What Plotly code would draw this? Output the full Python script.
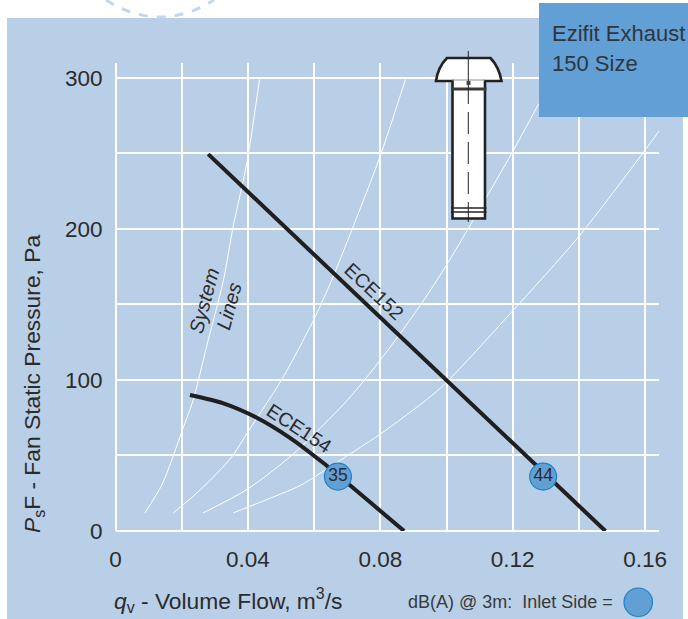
import plotly.graph_objects as go

# ---- data ----
x_ticks = [0, 0.04, 0.08, 0.12, 0.16]
x_labels = ["0", "0.04", "0.08", "0.12", "0.16"]
y_ticks = [0, 100, 200, 300]
y_labels = ["0", "100", "200", "300"]

sys1_q = [0.0089, 0.0140, 0.0170, 0.0195, 0.0235, 0.0275, 0.0326, 0.0355, 0.0397, 0.0435]
sys1_p = [12, 30.5, 47, 62.5, 87, 122, 166, 201, 244, 299]
sys2_q = [0.0175, 0.0260, 0.0351, 0.0401, 0.0452, 0.0507, 0.0597, 0.0653, 0.069, 0.0796, 0.0876]
sys2_p = [12, 28, 49, 66, 83, 102, 139, 166, 186, 246, 299]
sys3_q = [0.0265, 0.0401, 0.0532, 0.0593, 0.0702, 0.0796, 0.0910, 0.0997, 0.1197, 0.1279]
sys3_p = [12, 28, 50, 62.5, 87, 112, 146, 175, 250, 283]
sys4_q = [0.0356, 0.0482, 0.0557, 0.0687, 0.0799, 0.0940, 0.0998, 0.1197, 0.14, 0.1596, 0.1656]
sys4_p = [12, 23, 30, 48, 64, 87, 98, 145, 195, 251, 269]

ece152_q = [0.0280, 0.148]
ece152_p = [249.5, 0]
ece154_q = [0.0225, 0.0326, 0.0427, 0.0527, 0.0628, 0.0672, 0.0772, 0.0872]
ece154_p = [90, 84.5, 75, 61.7, 45, 37, 18.5, 0]

noise_q = [0.0672, 0.1292]
noise_p = [36, 36]
noise_db = ["35", "44"]

W, H = 688, 619
PANEL = "#b9cfe8"
BOX = "#629fd5"
RING = "#1a84c4"
INK = "#2b2b2b"
FONT = "Liberation Sans"


def px(v):
    return v / W


def py(v):
    return 1 - v / H


def path(*cmds):
    out = []
    for c in cmds:
        if isinstance(c, str):
            out.append(c)
        else:
            out.append(f"{px(c[0]):.5f},{py(c[1]):.5f}")
    return " ".join(out)


fig = go.Figure()
for q, p in [(sys1_q, sys1_p), (sys2_q, sys2_p), (sys3_q, sys3_p), (sys4_q, sys4_p)]:
    fig.add_trace(go.Scatter(x=q, y=p, mode="lines", cliponaxis=False, hoverinfo="skip",
                             line=dict(color="white", width=1, shape="spline", smoothing=0.8)))
fig.add_trace(go.Scatter(x=ece152_q, y=ece152_p, mode="lines", cliponaxis=False,
                         line=dict(color="#1f1f1f", width=4)))
fig.add_trace(go.Scatter(x=ece154_q, y=ece154_p, mode="lines", cliponaxis=False,
                         line=dict(color="#1f1f1f", width=4, shape="spline", smoothing=0.8)))
fig.add_trace(go.Scatter(x=noise_q, y=noise_p, mode="markers+text", text=noise_db,
                         textposition="middle center", cliponaxis=False,
                         textfont=dict(family=FONT, size=17.5, color=INK),
                         marker=dict(size=27, color=BOX, line=dict(color=RING, width=1.2))))


def rect(x0, y0, x1, y1, **kw):
    return dict(type="rect", xref="paper", yref="paper", x0=px(x0), x1=px(x1),
                y0=py(y1), y1=py(y0), **kw)


def line(x0, y0, x1, y1, color="#222222", width=1.2, dash="solid"):
    return dict(type="line", xref="paper", yref="paper", x0=px(x0), x1=px(x1),
                y0=py(y0), y1=py(y1), layer="above", line=dict(color=color, width=width, dash=dash))


dark = dict(color="#222222", width=2.6)
shapes = [
    rect(7, 18, 683, 619, fillcolor=PANEL, line_width=0, layer="below"),
    dict(type="path", xref="paper", yref="paper", layer="below",
         path=path("M", (106, 0), "Q", (160, 34), (214, 0)),
         line=dict(color="#c3d6ec", width=3, dash="dash")),
    rect(539, 3, 688, 117, fillcolor=BOX, line_width=0, layer="above"),
    dict(type="path", xref="paper", yref="paper", layer="above", fillcolor="white", line=dark,
         path=path("M", (436, 81), "Q", (438, 67), (447, 58), "L", (490.5, 58), "Q", (499, 67), (501.5, 81),
                   "L", (485, 81), "L", (485, 218.5), "L", (452.5, 218.5), "L", (452.5, 81), "Z")),
    line(452, 80, 485, 80, color="#8f8f8f", width=1),
    line(451, 89, 486.5, 89, width=3, color="#3a3a3a"),
    line(451, 208, 486.5, 208, width=1.4),
    line(451, 212, 486.5, 212, width=1.4),
    line(468.3, 51, 468.3, 82, width=1),
    line(468.3, 82, 468.3, 222, width=1, dash="22px,8px"),
    rect(466.5, 81, 470.5, 85, fillcolor="#444444", line_width=0, layer="above"),
    dict(type="circle", xref="paper", yref="paper", x0=px(624), x1=px(652.5), y0=py(616.5), y1=py(588),
         layer="above", fillcolor=BOX, line=dict(color=RING, width=1.2)),
]

txt = dict(showarrow=False, xref="paper", yref="paper")


def note(text, x, y, size, angle=0, anchor="center", color=INK):
    return dict(text=text, x=px(x), y=py(y), xanchor=anchor, yanchor="middle", textangle=angle,
                font=dict(family=FONT, size=size, color=color), **txt)


annotations = [
    note("<i>P</i><sub>s</sub>F - Fan Static Pressure, Pa", 33, 384, 22.8, angle=-90),
    note("<i>q</i><sub>v</sub> - Volume Flow, m<sup>3</sup>/s", 228, 600, 22.8),
    note("dB(A) @ 3m:&nbsp;&nbsp;Inlet Side =", 510, 602, 18, color="#3a3a3a"),
    note("Ezifit Exhaust", 550, 34, 22, anchor="left", color="#2e3640"),
    note("150 Size", 550, 63, 22, anchor="left", color="#2e3640"),
    note("ECE152", 374, 291, 19.5, angle=43),
    note("ECE154", 299, 428, 19.5, angle=33),
    note("<i>System</i>", 204, 301, 20, angle=-75),
    note("<i>Lines</i>", 229, 306, 20, angle=-75),
]

grid = dict(showgrid=True, gridcolor="white", gridwidth=2.2, zeroline=True, zerolinecolor="white",
            zerolinewidth=2.2, showline=False, ticks="", ticklabelstandoff=12, automargin=False,
            tickfont=dict(family=FONT, size=22.5, color=INK), tickmode="array")

fig.update_layout(
    width=W, height=H, margin=dict(l=0, r=0, t=0, b=0, autoexpand=False), autosize=False,
    paper_bgcolor="white", plot_bgcolor="rgba(0,0,0,0)", showlegend=False,
    shapes=shapes, annotations=annotations,
    xaxis=dict(domain=[115.5 / W, 659 / W], range=[0, 0.1642], tickvals=x_ticks, ticktext=x_labels,
               minor=dict(tick0=0, dtick=0.02, showgrid=True, gridcolor="white", gridwidth=2.2), **grid),
    yaxis=dict(domain=[1 - 531 / H, 1 - 63 / H], range=[0, 309.8], tickvals=y_ticks, ticktext=y_labels,
               minor=dict(tick0=0, dtick=50, showgrid=True, gridcolor="white", gridwidth=2.2), **grid),
)

fig.write_html("out.html", config=dict(displayModeBar=False),
               post_script="document.body.style.margin='0';")
